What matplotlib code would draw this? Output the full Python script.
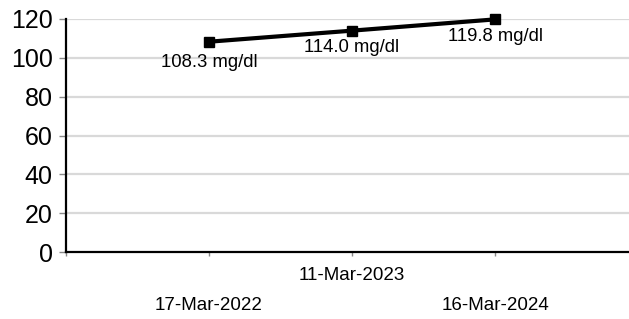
import matplotlib
matplotlib.use("Agg")
import matplotlib.pyplot as plt

dates = ["17-Mar-2022", "11-Mar-2023", "16-Mar-2024"]
values = [108.3, 114.0, 119.8]
labels = ["108.3 mg/dl", "114.0 mg/dl", "119.8 mg/dl"]
yticks = [0, 20, 40, 60, 80, 100, 120]

plt.rcParams['font.family'] = ['Liberation Sans', 'DejaVu Sans']

W, H = 629, 319
fig = plt.figure(figsize=(W / 100, H / 100), dpi=100)
left, right, bottom, top = 66, 638, 252, 19
ax = fig.add_axes([left / W, (H - bottom) / H, (right - left) / W, (bottom - top) / H])

x = list(range(len(values)))
ax.set_xlim(-1, 3)
ax.set_ylim(0, 120)

for y in yticks[1:]:
    ax.axhline(y, color='#d9d9d9', lw=1.6, zorder=0)

ax.plot(x, values, color='black', lw=3, marker='s', markersize=7.5, zorder=3, clip_on=False)

offsets = [-15, -12, -12]
for xi, v, lab, off in zip(x, values, labels, offsets):
    ax.annotate(lab, (xi, v), xytext=(0, off), textcoords='offset points',
                ha='center', va='center', fontsize=13.3, color='black')

for s in ['top', 'right']:
    ax.spines[s].set_visible(False)
ax.spines['left'].set_linewidth(1.6)
ax.spines['bottom'].set_linewidth(1.6)

ax.set_yticks(yticks)
ax.set_yticklabels([str(t) for t in yticks], fontsize=18)
ax.tick_params(axis='y', length=5, width=1, color='#888888', pad=4.5)

ax.set_xticks([-1, 0, 1, 2])
ax.set_xticklabels([])
ax.tick_params(axis='x', length=3, width=1, color='#888888')

blend = matplotlib.transforms.blended_transform_factory(ax.transData, fig.transFigure)
for xi, d in zip(x, dates):
    ypix = 275 if xi % 2 == 1 else 306
    ax.text(xi, (H - ypix) / H, d, transform=blend,
            ha='center', va='center', fontsize=13.5)

fig.savefig('out.png', dpi=100)
